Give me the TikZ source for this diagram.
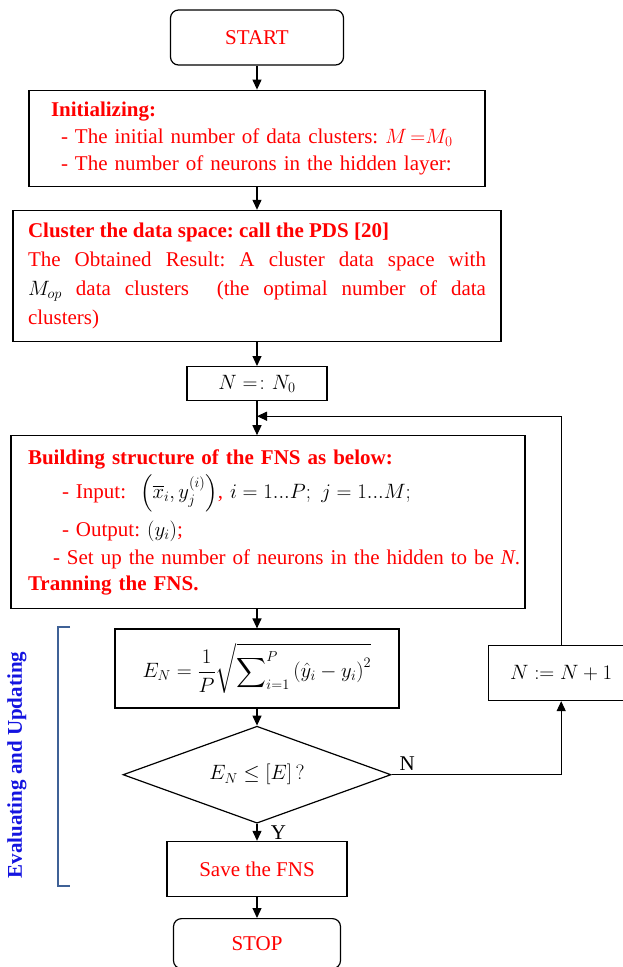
\documentclass[tikz,border=0pt]{standalone}
\usepackage{fontspec}
\setmainfont{Liberation Serif}
\usepackage{amsmath}
\usetikzlibrary{arrows.meta, positioning, calc, shapes.geometric}
\definecolor{flowred}{HTML}{FF0000}
\definecolor{sideblue}{HTML}{1414E0}
\definecolor{bracketblue}{HTML}{3F6196}
\newcommand{\blk}[1]{{\color{black}#1}}
\frenchspacing

\begin{document}
\begin{tikzpicture}[
    x=1pt, y=1pt,
    >={Triangle[length=10pt,width=9pt]},
    node distance=25pt,
    every node/.style={font=\fontsize{21}{27}\selectfont},
    termbox/.style={
      rectangle, rounded corners=8pt, draw, line width=1.2pt,
      text=flowred, minimum width=173pt, minimum height=55pt
    },
    procbox/.style={
      rectangle, draw, line width=1.2pt, text=flowred,
      inner ysep=4pt
    },
    decision/.style={
      diamond, draw, line width=1.2pt, inner sep=0pt, aspect=2.76,
      minimum width=268pt, minimum height=97pt
    },
    arrow/.style={->, line width=1.2pt},
    bracket/.style={draw=bracketblue, line width=2.5pt},
    sidelabel/.style={font=\fontsize{21}{27}\selectfont\bfseries, text=sideblue}
  ]
  \useasboundingbox (0,0) rectangle (623,-967);

  % ===== main column =====
  \node[termbox] (start) at (257,-37.5) {START};

  \node[procbox, below=24pt of start, text width=412pt, inner xsep=22pt,
        minimum height=96pt, align=left] (init)
    {\textbf{Initializing:}\\
     \hspace*{10pt}- The initial number of data clusters: $M\,{=}M_0$\\
     \hspace*{10pt}\makebox[408pt][s]{- The number of neurons in the hidden layer:}};

  \node[procbox, below=23pt of init, text width=458pt, inner xsep=15pt,
        minimum height=131pt, align=justify,
        font=\fontsize{21}{29}\selectfont] (cluster)
    {\textbf{Cluster the data space: call the PDS [20]}\\
     The Obtained Result: A cluster data space with\linebreak
     \blk{$M_{op}$} data clusters\ \ (the optimal number of data\linebreak
     clusters)};

  \node[procbox, below=24pt of cluster, minimum width=140pt, minimum height=34pt,
        text=black, inner ysep=0pt] (nzero)
    {$N =\colon N_0$};

  \node[procbox, below=34pt of nzero, xshift=11pt, text width=480pt,
        inner xsep=17pt, minimum height=173pt, align=left,
        font=\fontsize{21}{26}\selectfont] (build)
    {\textbf{Building structure of the FNS as below:}\\[5pt]%
     \hspace*{34pt}- Input:\ \ \blk{$\left(\overline{x}_i, y_j^{(i)}\right)$}, \blk{$i=1...P;\ j=1...M;$}\\[8pt]%
     \hspace*{34pt}- Output: \blk{$\left(y_i\right)$};\\[2pt]%
     \hspace*{25pt}\makebox[454pt][s]{- Set up the number of neurons in the hidden to be \textit{N}.}\\%
     \textbf{Tranning the FNS.}};

  \node[procbox, below=19pt of build.south -| nzero.south, anchor=north,
        minimum width=284pt, minimum height=79pt, text=black] (errbox)
    {$\displaystyle E_N=\frac{1}{P}\sqrt{\sum\nolimits_{i=1}^{P}\left(\hat{y}_i-y_i\right)^2}$};

  \node[decision, below=17pt of errbox] (check)
    {$E_N \leq [E]\,?$};

  \node[procbox, below=17pt of check, minimum width=180pt,
        minimum height=55pt] (save) {Save the FNS};

  \node[termbox, below=21pt of save, minimum width=167pt,
        minimum height=50pt] (stop) {STOP};

  % ===== loop back =====
  \node[procbox, right=88pt of errbox, yshift=-4.5pt, minimum width=146pt,
        minimum height=55pt, text=black] (nplus)
    {$N := N+1$};

  \coordinate (join) at ([yshift=-15pt]nzero.south);

  % ===== connectors =====
  \draw[arrow] (start) -- (init);
  \draw[arrow] (init.south -| start.south) -- (cluster.north -| start.south);
  \draw[arrow] (cluster.south -| start.south) -- (nzero);
  \draw[arrow] (nzero.south) -- (build.north -| nzero.south);
  \draw[arrow] (build.south -| nzero.south) -- (errbox);
  \draw[arrow] (errbox) -- (check);
  \draw[arrow] (check) -- node[right=10pt, text=black] {Y} (save);
  \draw[arrow] (save) -- (stop);
  \draw[arrow] (check.east) node[above right=0pt and 4pt, text=black] {N}
    -| (nplus.south);
  \draw[arrow] (nplus.north) |- (join);

  % ===== evaluating bracket =====
  \coordinate (brtop) at (70,-627);
  \coordinate (brbot) at (70,-886);
  \draw[bracket] (brtop) -- ++(-12,0) |- (brbot);
  \node[sidelabel, rotate=90] (evallabel) at (17,-765) {Evaluating and Updating};

\end{tikzpicture}
\end{document}
